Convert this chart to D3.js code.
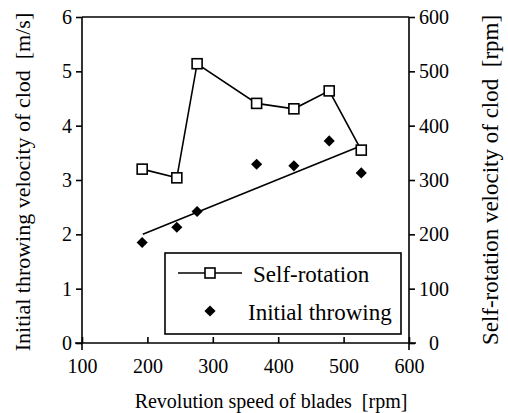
<!DOCTYPE html>
<html>
<head>
<meta charset="utf-8">
<script src="https://cdn.jsdelivr.net/npm/d3@7"></script>
<style>
  html, body { margin: 0; padding: 0; background: #fff; }
</style>
</head>
<body>
<svg id="chart" width="508" height="413"></svg>
<script>
// Revolution speed of blades [rpm]
const bladeSpeed = [192, 245, 276, 367, 424, 478, 527];
// Self-rotation velocity of clod [rpm] (right axis)
const selfRotation = [320, 304, 514, 441, 431, 464, 355];
// Initial throwing velocity of clod [m/s] (left axis)
const initialThrowing = [1.85, 2.13, 2.42, 3.29, 3.26, 3.72, 3.13];
// Straight-line trend through the throwing velocities (end points)
const trendSpeed = [193, 527];
const trendVelocity = [2.0, 3.63];

const xTicks = [100, 200, 300, 400, 500, 600];
const yLeftTicks = [0, 1, 2, 3, 4, 5, 6];
const yRightTicks = [0, 100, 200, 300, 400, 500, 600];

const serif = '"Liberation Serif"';
const svg = d3.select("#chart");
const plotLeft = 82, plotRight = 409, plotTop = 17, plotBottom = 343;

const x = d3.scaleLinear().domain([100, 600]).range([plotLeft, plotRight]);
const yL = d3.scaleLinear().domain([0, 6]).range([plotBottom, plotTop]);
const yR = d3.scaleLinear().domain([0, 600]).range([plotBottom, plotTop]);

// frame lines
const frame = svg.append("g").attr("stroke", "#000").attr("stroke-width", 1.6).attr("fill", "none");
frame.append("line").attr("x1", plotLeft).attr("x2", plotLeft).attr("y1", plotTop).attr("y2", plotBottom + 7);
frame.append("line").attr("x1", plotRight).attr("x2", plotRight).attr("y1", plotTop).attr("y2", plotBottom + 7);
frame.append("line").attr("x1", plotLeft - 7).attr("x2", plotRight + 7).attr("y1", plotBottom).attr("y2", plotBottom);
frame.append("line").attr("x1", plotLeft).attr("x2", plotRight).attr("y1", plotTop).attr("y2", plotTop);

function styleAxis(g) {
  g.attr("font-family", null).attr("font-size", null);
  g.select(".domain").remove();
  g.selectAll(".tick line").attr("stroke", "#000").attr("stroke-width", 1.6);
  g.selectAll(".tick text")
    .style("font-family", serif).style("font-size", "20px").attr("fill", "#000");
}

const fmt = d3.format("d");

svg.append("g")
  .attr("transform", `translate(0,${plotBottom})`)
  .call(d3.axisBottom(x).tickValues(xTicks).tickFormat(fmt).tickSizeInner(-6).tickSizeOuter(0).tickPadding(16))
  .call(styleAxis);

svg.append("g")
  .attr("transform", `translate(${plotLeft},0)`)
  .call(d3.axisLeft(yL).tickValues(yLeftTicks).tickFormat(fmt).tickSizeInner(6).tickSizeOuter(0).tickPadding(4))
  .call(styleAxis);

const rAxis = svg.append("g")
  .attr("transform", `translate(${plotRight},0)`)
  .call(d3.axisRight(yR).tickValues(yRightTicks).tickFormat(fmt).tickSizeInner(6).tickSizeOuter(0))
  .call(styleAxis);
rAxis.selectAll(".tick text").attr("x", 25).attr("text-anchor", "middle");

function label(sel, size) {
  return sel.style("font-family", serif).style("font-size", size + "px")
    .style("white-space", "pre").attr("fill", "#000");
}

// axis titles
svg.append("text")
  .attr("x", 271).attr("y", 408)
  .attr("text-anchor", "middle")
  .call(label, 20)
  .text("Revolution speed of blades  [rpm]");

svg.append("text")
  .attr("transform", "translate(30,182) rotate(-90)")
  .attr("text-anchor", "middle")
  .call(label, 22)
  .text("Initial throwing velocity of clod  [m/s]");

svg.append("text")
  .attr("transform", "translate(498,180) rotate(-90)")
  .attr("text-anchor", "middle")
  .call(label, 23)
  .text("Self-rotation velocity of clod  [rpm]");

const plot = svg.append("g");

// trend line for throwing velocity
plot.append("path")
  .datum(d3.zip(trendSpeed, trendVelocity))
  .attr("fill", "none").attr("stroke", "#000").attr("stroke-width", 1.6)
  .attr("d", d3.line().x(d => x(d[0])).y(d => yL(d[1])));

// self-rotation polyline
const selfPts = d3.zip(bladeSpeed, selfRotation);
plot.append("path")
  .datum(selfPts)
  .attr("fill", "none").attr("stroke", "#000").attr("stroke-width", 1.6)
  .attr("d", d3.line().x(d => x(d[0])).y(d => yR(d[1])));

const sq = 10;
plot.selectAll("rect.self")
  .data(selfPts).join("rect")
  .attr("class", "self")
  .attr("x", d => x(d[0]) - sq / 2).attr("y", d => yR(d[1]) - sq / 2)
  .attr("width", sq).attr("height", sq)
  .attr("fill", "#fff").attr("stroke", "#000").attr("stroke-width", 1.6);

const diamond = d3.symbol().type(d3.symbolSquare).size(62);
plot.selectAll("path.throw")
  .data(d3.zip(bladeSpeed, initialThrowing)).join("path")
  .attr("class", "throw")
  .attr("transform", d => `translate(${x(d[0])},${yL(d[1])}) rotate(45)`)
  .attr("d", diamond)
  .attr("fill", "#000");

// legend
const lg = svg.append("g");
lg.append("rect")
  .attr("x", 165).attr("y", 253).attr("width", 236).attr("height", 81)
  .attr("fill", "#fff").attr("stroke", "#000").attr("stroke-width", 1.6);
lg.append("line")
  .attr("x1", 178).attr("x2", 242).attr("y1", 273).attr("y2", 273)
  .attr("stroke", "#000").attr("stroke-width", 1.6);
lg.append("rect")
  .attr("x", 210 - sq / 2).attr("y", 273 - sq / 2).attr("width", sq).attr("height", sq)
  .attr("fill", "#fff").attr("stroke", "#000").attr("stroke-width", 1.6);
lg.append("path")
  .attr("transform", "translate(210,311) rotate(45)")
  .attr("d", diamond).attr("fill", "#000");
lg.append("text").attr("x", 253).attr("y", 282).call(label, 23).text("Self-rotation");
lg.append("text").attr("x", 248).attr("y", 320).call(label, 23).text("Initial throwing");
</script>
</body>
</html>
